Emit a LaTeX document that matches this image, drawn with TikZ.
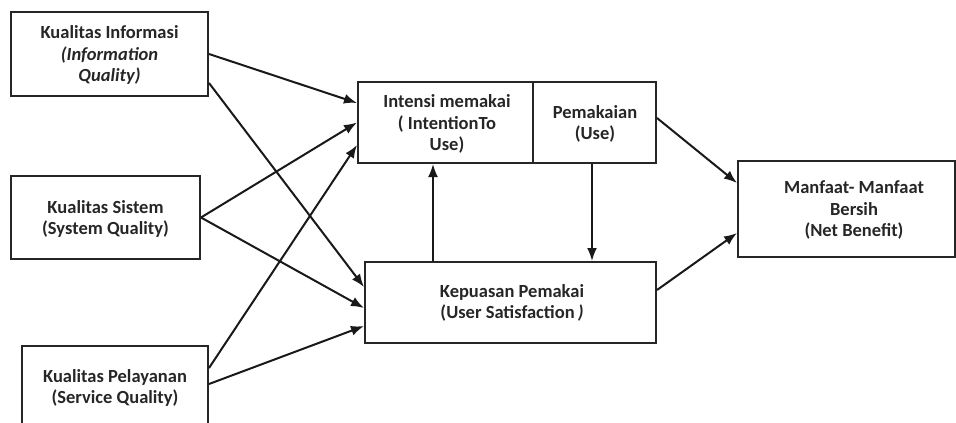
\documentclass[tikz,border=0pt]{standalone}
\usepackage{fontspec}
\setmainfont{Carlito}
\usetikzlibrary{arrows.meta}
\begin{document}
\begin{tikzpicture}[x=1pt,y=-1pt,
  box/.style={draw=black!85,line width=2pt,rectangle,inner sep=0pt},
  txt/.style={align=center,font=\fontsize{18.5}{21.5}\selectfont\bfseries,text=black!85},
  arr/.style={line width=2pt,draw=black!90,-{Latex[length=13pt,width=10pt]}}]
\useasboundingbox (0,0) rectangle (956,423);
\clip (0,0) rectangle (956,423);
% boxes
\node[box,minimum width=197pt,minimum height=84pt] (info) at (109.5,54) {};
\node[txt] (infot) at (109.5,55) {Kualitas Informasi\\\textit{(Information}\\\textit{Quality)}};
\node[box,minimum width=189pt,minimum height=83pt] (sistem) at (105.5,217.5) {};
\node[txt] (sistemt) at (105.5,219) {Kualitas Sistem\\(System Quality)};
\node[box,minimum width=186pt,minimum height=84pt] (layan) at (115,388) {};
\node[txt] (layant) at (115,388) {Kualitas Pelayanan\\(Service Quality)};
\node[box,minimum width=175pt,minimum height=81pt] (intensi) at (445.5,122.5) {};
\node[txt] (intensit) at (447,124) {Intensi memakai\\( IntentionTo\\Use)};
\node[box,minimum width=123pt,minimum height=81pt] (use) at (594.5,122.5) {};
\node[txt] (uset) at (595,124) {Pemakaian\\(Use)};
\node[box,minimum width=291pt,minimum height=81pt] (puas) at (510.5,302.5) {};
\node[txt] (puast) at (512,303) {Kepuasan Pemakai\\(User Satisfaction\,\textit{)}};
\node[box,minimum width=217pt,minimum height=96pt] (manfaat) at (846.5,209) {};
\node[txt] (manfaatt) at (854,210) {Manfaat- Manfaat\\Bersih\\(Net Benefit)};
% arrows from left
\draw[arr] (info.east) -- ([yshift=19.5pt]intensi.west);
\draw[arr] ([yshift=-29pt]info.east) -- ([yshift=15.5pt]puas.west);
\draw[arr] (sistem.east) -- (intensi.west);
\draw[arr] (sistem.east) -- ([yshift=-5.5pt]puas.west);
\draw[arr] ([yshift=20pt]layan.east) -- ([yshift=-22.5pt]intensi.west);
\draw[arr] ([yshift=4pt]layan.east) -- ([yshift=-23.5pt]puas.west);
% vertical arrows
\coordinate (k1) at ([xshift=-77.5pt]puas.north);
\draw[arr] (k1) -- (k1 |- intensi.south);
\coordinate (u1) at ([xshift=-2.5pt]use.south);
\draw[arr] (u1) -- (u1 |- puas.north);
% to net benefit
\draw[arr] ([yshift=4.5pt]use.east) -- ([yshift=26pt]manfaat.west);
\draw[arr] ([yshift=12.5pt]puas.east) -- ([yshift=-24pt]manfaat.west);
\end{tikzpicture}
\end{document}
